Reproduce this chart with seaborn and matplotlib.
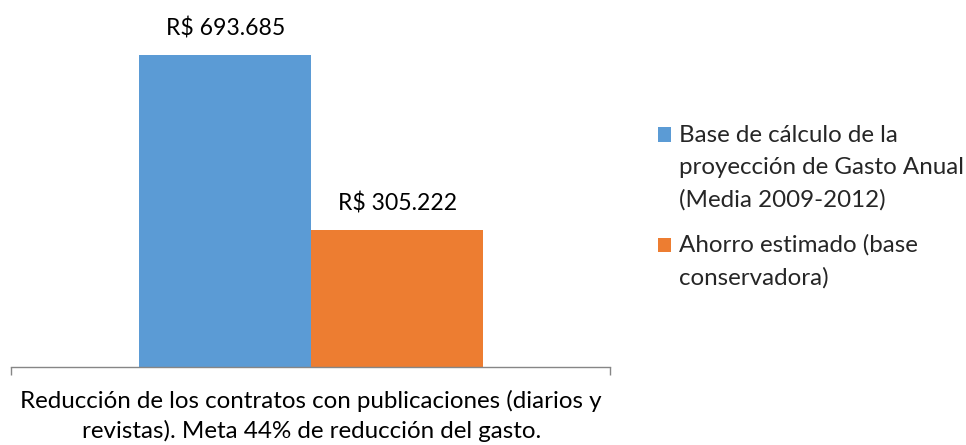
import numpy as np
import pandas as pd
import matplotlib.pyplot as plt
import seaborn as sns
from matplotlib.legend_handler import HandlerPatch
from matplotlib.patches import Rectangle

# ---------------------------------------
# Data
# ---------------------------------------
CATEGORY = ["Reducción de los contratos con publicaciones (diarios y\nrevistas). Meta 44% de reducción del gasto."]
SERIES = [
    "Base de cálculo de la\nproyección de Gasto Anual\n(Media 2009-2012)",
    "Ahorro estimado (base\nconservadora)",
]
VALUES = [693685, 305222]
VALUE_LABELS = ["R$ 693.685", "R$ 305.222"]
COLORS = ["#5B9BD5", "#ED7D31"]

sns.set_theme(style="white")
plt.rcParams["font.family"] = ["Lato", "DejaVu Sans"]
FS_VAL = 16.6
FS = 17.4
LINE_PT = 33 * 72 / 100  # ~33 px between legend lines


class TopAlignedHandler(HandlerPatch):
    """Square legend marker aligned with the first text line (Excel style)."""

    def __init__(self, shift):
        super().__init__()
        self.shift = shift

    def create_artists(self, legend, orig_handle, xdescent, ydescent,
                       width, height, fontsize, trans):
        p = Rectangle((-xdescent, -ydescent + self.shift), width, height,
                      facecolor=orig_handle.get_facecolor(), edgecolor="none",
                      transform=trans)
        return [p]


W, H = 966, 445
fig = plt.figure(figsize=(W / 100, H / 100), dpi=100)
ax = fig.add_axes([11 / W, (H - 367) / H, (610 - 11) / W, (367 - 10) / H])

df = pd.DataFrame({"cat": CATEGORY * len(SERIES), "series": SERIES, "value": VALUES})
sns.barplot(data=df, x="cat", y="value", hue="series", palette=COLORS,
            width=0.8, saturation=1, linewidth=0, ax=ax, legend=True)

ax.set_xlim(-0.698, 0.695)
ax.set_ylim(0, VALUES[0] * 357 / 312)

for cont, lab in zip(ax.containers, VALUE_LABELS):
    ax.bar_label(cont, labels=[lab], padding=11, fontsize=FS_VAL, color="#000000")

for s in ["top", "right", "left"]:
    ax.spines[s].set_visible(False)
ax.spines["bottom"].set_color("#868686")
ax.spines["bottom"].set_linewidth(1.0)
ax.set_yticks([])
ax.set_xlabel("")
ax.set_ylabel("")
ax.tick_params(axis="x", which="major", length=0, pad=16.5, labelsize=FS, labelcolor="#000000")
ax.set_xticks([-0.698, 0.695], minor=True)
ax.tick_params(axis="x", which="minor", bottom=True, length=6, width=1.0,
               color="#868686", direction="out")
for t in ax.get_xticklabels():
    t.set_multialignment("center")
    t.set_linespacing(1.42)

handles, labels = ax.get_legend_handles_labels()
ax.get_legend().remove()
hmap = {h: TopAlignedHandler(LINE_PT * (lab.count("\n")) / 2) for h, lab in zip(handles, labels)}
leg = fig.legend(handles, labels, loc="upper left", bbox_to_anchor=(648 / W, 1 - 115 / H),
                 frameon=False, fontsize=FS, handlelength=0.55, handleheight=0.55,
                 handletextpad=0.33, labelspacing=0.98, borderaxespad=0, handler_map=hmap)
for t in leg.get_texts():
    t.set_linespacing(1.65)

fig.savefig("out.png", dpi=100)
plt.close(fig)
